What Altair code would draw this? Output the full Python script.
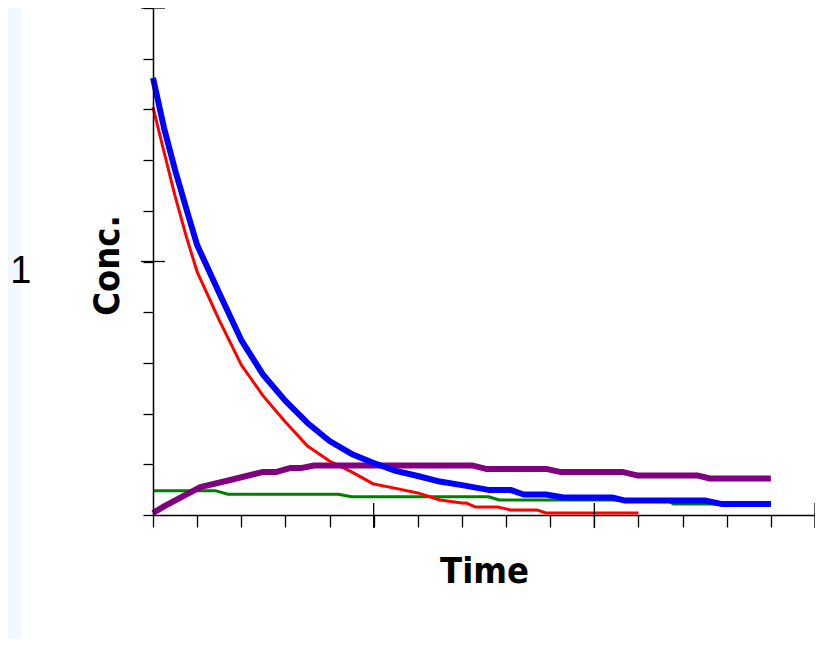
import altair as alt
import pandas as pd

# ---- data (time, concentration) ----
blue_t = [0, 0.25, 0.5, 0.75, 1, 1.5, 2, 2.5, 3, 3.5, 4, 4.5, 5, 5.5, 6, 6.5,
          7.0, 7.6, 8.1, 8.4, 8.9, 9.3, 10.4, 10.7, 12.5, 12.9, 14]
blue_v = [1.724, 1.527, 1.361, 1.211, 1.065, 0.876, 0.690, 0.552, 0.450, 0.363,
          0.292, 0.241, 0.205, 0.174, 0.154, 0.132, 0.118, 0.099, 0.099, 0.081,
          0.081, 0.069, 0.069, 0.057, 0.057, 0.043, 0.043]

red_t = [0, 0.25, 0.5, 0.75, 1, 1.5, 2, 2.5, 3, 3.5, 4, 4.5, 5, 5.5, 6, 6.5,
         7.0, 7.1, 7.3, 7.8, 8.1, 8.7, 8.9, 11]
red_v = [1.609, 1.432, 1.258, 1.101, 0.959, 0.769, 0.592, 0.469, 0.367, 0.272,
         0.213, 0.170, 0.122, 0.105, 0.087, 0.059, 0.047, 0.047, 0.032, 0.032,
         0.020, 0.020, 0.008, 0.008]

purple_t = [0, 0.27, 1.07, 1.75, 2.5, 2.8, 3.1, 3.35, 3.65, 7.25, 7.57, 8.93,
            9.22, 10.63, 10.97, 12.33, 12.62, 14]
purple_v = [0.008, 0.036, 0.110, 0.138, 0.170, 0.170, 0.185, 0.185, 0.195,
            0.195, 0.181, 0.181, 0.170, 0.170, 0.156, 0.156, 0.144, 0.144]

green_t = [0, 1.41, 1.7, 4.2, 4.5, 7.6, 7.85, 11.65, 11.8, 14]
green_v = [0.096, 0.096, 0.082, 0.082, 0.072, 0.072, 0.059, 0.059, 0.043, 0.043]

x_tick_values = [0, 1, 2, 3, 4, 5, 6, 7, 8, 9, 10, 11, 12, 13, 14, 15]
x_major_ticks = [5, 10, 15]
y_tick_values = [0, 0.2, 0.4, 0.6, 0.8, 1.0, 1.2, 1.4, 1.6, 1.8, 2.0]
y_major_ticks = [1, 2]
y_label_shown = "1"

x_title = "Time"
y_title = "Conc."

# ---- styling ----
TITLE_FONT = "DejaVu Sans Condensed, DejaVu Sans"

x_scale = alt.Scale(domain=[0, 15], nice=False, zero=False)
y_scale = alt.Scale(domain=[0, 2], nice=False)

x_axis = alt.Axis(
    values=x_tick_values, labels=False, grid=False,
    tickSize=12, tickColor="black", tickWidth=1.3,
    domainColor="black", domainWidth=1.5,
    title=x_title, titleFont=TITLE_FONT, titleFontWeight="bold",
    titleFontSize=36, titleColor="black",
    titleY=67, titleBaseline="alphabetic",
)
y_axis = alt.Axis(
    values=y_tick_values, grid=False, zindex=1,
    tickSize=10, tickColor="black", tickWidth=1.3,
    domainColor="black", domainWidth=1.5,
    labelExpr=f"datum.value == 1 ? '{y_label_shown}' : ''",
    labelFont="Liberation Sans", labelFontSize=38, labelColor="black",
    labelPadding=112, labelBaseline="alphabetic", labelOffset=21,
    labelAlign="right",
    labelOverlap=False, labelFlush=False, labelBound=False,
    title=y_title, titleFont=TITLE_FONT, titleFontWeight="bold",
    titleFontSize=36, titleColor="black", titleAngle=270,
    titleX=-35, titleY=257, titleBaseline="alphabetic", titleAlign="center",
)

x_enc = alt.X("t:Q", scale=x_scale, axis=x_axis)
y_enc = alt.Y("v:Q", scale=y_scale, axis=y_axis)


def line(t, v, color, width):
    df = pd.DataFrame({"t": t, "v": v})
    return alt.Chart(df).mark_line(
        color=color, strokeWidth=width, strokeJoin="round", strokeCap="butt"
    ).encode(x=x_enc, y=y_enc)


green = line(green_t, green_v, "#008000", 3)
red = line(red_t, red_v, "#ff0000", 3)
purple = line(purple_t, purple_v, "#800080", 6)
blue = line(blue_t, blue_v, "#0000ff", 6)

# cross ticks for the major marks
x_cross = alt.Chart(pd.DataFrame({"t": x_major_ticks})).mark_rule(
    color="black", strokeWidth=1.3
).encode(x=x_enc, y=alt.value(495), y2=alt.value(520))

y_cross = alt.Chart(pd.DataFrame({"v": y_major_ticks})).mark_rule(
    color="black", strokeWidth=1.3
).encode(y=y_enc, x=alt.value(-12), x2=alt.value(12))

# light blue frame strip on the left (decoration)
strip = alt.Chart(pd.DataFrame({"a": [0]})).mark_rect(color="#f1f7fc").encode(
    x=alt.value(-145), x2=alt.value(-132), y=alt.value(0), y2=alt.value(640)
)

chart = alt.layer(strip, green, red, purple, blue, x_cross, y_cross).properties(
    width=662, height=507,
    autosize=alt.AutoSizeParams(type="none"),
    padding={"left": 145, "top": 0, "right": 0, "bottom": 124},
    background="white",
).configure_view(stroke=None)

chart.save("out.html", embed_options={"renderer": "svg", "actions": False})
